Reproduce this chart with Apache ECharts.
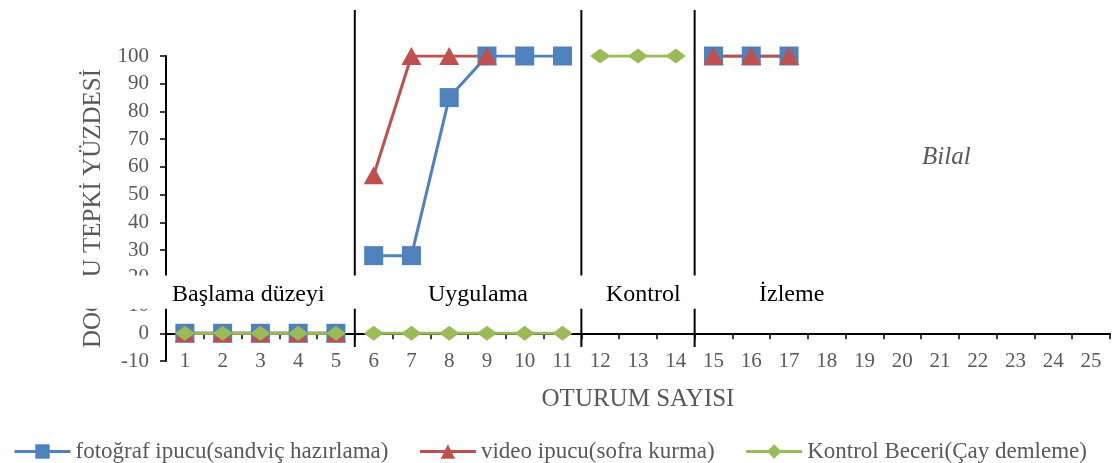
<!DOCTYPE html>
<html><head><meta charset="utf-8">
<script src="https://cdn.jsdelivr.net/npm/echarts@6/dist/echarts.min.js"></script>
<style>html,body{margin:0;padding:0;background:#fff}#c{width:1117px;height:463px}</style>
</head><body><div id="c"></div>
<script>
var sessions = ['1','2','3','4','5','6','7','8','9','10','11','12','13','14','15','16','17','18','19','20','21','22','23','24','25'];
var photoName = 'fotoğraf ipucu(sandviç hazırlama)';
var videoName = 'video ipucu(sofra kurma)';
var controlName = 'Kontrol Beceri(Çay demleme)';
var photoValues = [0,0,0,0,0,28,28,85,100,100,100,null,null,null,100,100,100,null,null,null,null,null,null,null,null];
var videoValues = [0,0,0,0,0,57,100,100,100,null,null,null,null,null,100,100,100,null,null,null,null,null,null,null,null];
var controlValues = [0,0,0,0,0,0,0,0,0,0,0,100,100,100,null,null,null,null,null,null,null,null,null,null,null];
var phaseNames = ['Başlama düzeyi','Uygulama','Kontrol','İzleme'];
var phaseStarts = [1,6,12,15];
var phaseEnds = [5,11,14,25];
var dividers = [5.5,11.5,14.5];
var yTicks = {min:-10,max:100,interval:10};

var FONT = '"Liberation Serif","DejaVu Serif",serif';
var GRAY = '#595959';
var chart = echarts.init(document.getElementById('c'));

function segments(name, values, color, symbol, size) {
  var out = [];
  for (var p = 0; p < phaseStarts.length; p++) {
    var d = values.map(function(v, i){ var s=i+1; return (s>=phaseStarts[p] && s<=phaseEnds[p]) ? v : null; });
    if (d.every(function(v){return v===null;})) continue;
    out.push({
      type:'line', name:name, data:d, xAxisIndex:0, yAxisIndex:0,
      symbol:symbol, symbolSize:size, showSymbol:true, connectNulls:false,
      lineStyle:{color:color,width:3}, itemStyle:{color:color, opacity:1},
      emphasis:{disabled:true}, animation:false, z:2
    });
  }
  return out;
}
var series = [].concat(
  segments(photoName, photoValues, '#4F81BD', 'rect', 19),
  segments(videoName, videoValues, '#C0504D', 'triangle', [20,18]),
  segments(controlName, controlValues, '#9BBB59', 'diamond', [20,15])
);
dividers.forEach(function(x){
  series.push({type:'line', name:'div'+x, xAxisIndex:1, yAxisIndex:1, data:[[x,0],[x,1]],
    symbol:'none', lineStyle:{color:'#000',width:2}, silent:true, animation:false, z:1});
});

chart.setOption({
  animation:false,
  grid:[{left:166,right:7,top:56,bottom:102},{left:166,right:7,top:10,bottom:116}],
  xAxis:[{
    type:'category', data:sessions, gridIndex:0, boundaryGap:true,
    name:'OTURUM SAYISI', nameLocation:'middle', nameGap:26,
    nameTextStyle:{fontFamily:FONT,fontSize:25,color:GRAY},
    axisLine:{onZero:true,lineStyle:{color:'#000',width:2}},
    axisTick:{show:true,length:6,lineStyle:{color:'#000',width:1.5}},
    axisLabel:{margin:-10,fontFamily:FONT,fontSize:21,color:GRAY,interval:0},
    splitLine:{show:false}
  },{
    type:'value', gridIndex:1, min:0.5, max:25.5, show:false
  }],
  yAxis:[{
    type:'value', gridIndex:0, min:yTicks.min, max:yTicks.max, interval:yTicks.interval,
    name:'DOĞRU TEPKİ YÜZDESİ', nameLocation:'middle', nameGap:60, nameRotate:90,
    nameTextStyle:{fontFamily:FONT,fontSize:25,color:GRAY},
    axisLine:{show:true,lineStyle:{color:'#000',width:2}},
    axisTick:{show:true,length:6,lineStyle:{color:'#000',width:1.5}},
    axisLabel:{margin:17,fontFamily:FONT,fontSize:21,color:GRAY},
    splitLine:{show:false}
  },{
    type:'value', gridIndex:1, min:0, max:1, show:false
  }],
  legend:{
    data:[photoName, videoName, controlName], top:435, left:8,
    itemWidth:56, itemHeight:18, itemGap:30,
    lineStyle:{width:3},
    textStyle:{fontFamily:FONT,fontSize:23,color:GRAY}
  },
  series:series
});

// phase label band
var yTop = chart.convertToPixel({xAxisIndex:0,yAxisIndex:0},[0,20.8])[1];
var yBot = chart.convertToPixel({xAxisIndex:0,yAxisIndex:0},[0,8.8])[1];
var yMid = (yTop+yBot)/2 + 2;
var labelLeft = [172,428,606,759];
var g = [{type:'rect', z:50, shape:{x:75,y:yTop,width:1042,height:yBot-yTop}, style:{fill:'#fff'}}];
phaseNames.forEach(function(n,i){
  g.push({type:'text', z:51, x:labelLeft[i], y:yMid, style:{text:n, font:'24px '+FONT, fill:'#000', textVerticalAlign:'middle'}});
});
g.push({type:'text', z:51, x:922, y:157, style:{text:'Bilal', font:'italic 25px '+FONT, fill:GRAY, textVerticalAlign:'middle'}});
chart.setOption({graphic:g});
</script></body></html>
